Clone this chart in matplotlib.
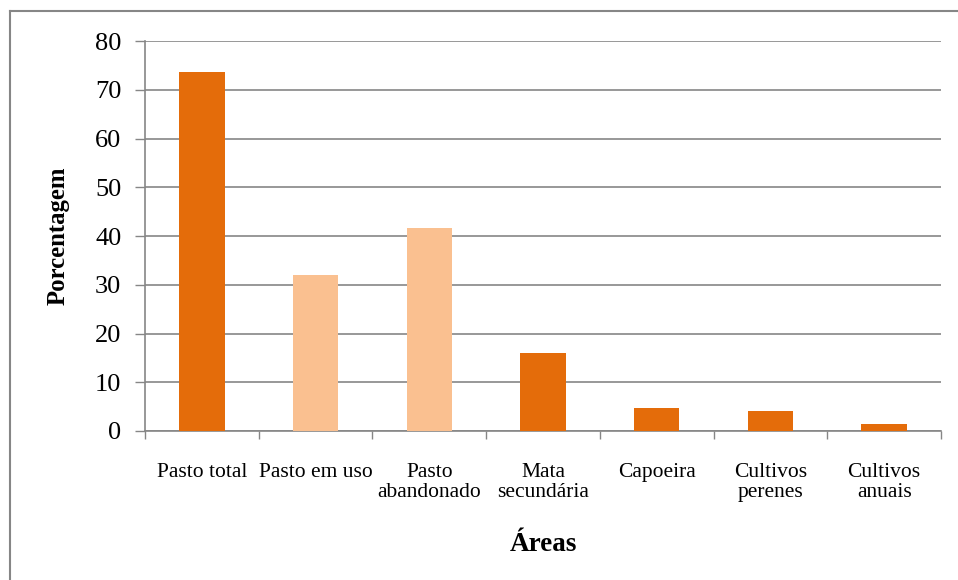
import matplotlib
matplotlib.use("Agg")
import matplotlib.pyplot as plt
from matplotlib.lines import Line2D

# Land-use shares
categorias = ["Pasto total", "Pasto em uso", "Pasto\nabandonado", "Mata\nsecundária",
              "Capoeira", "Cultivos\nperenes", "Cultivos\nanuais"]
valores = [73.7, 32.0, 41.6, 16.0, 4.7, 4.0, 1.5]
destaque = [True, False, False, True, True, True, True]

escuro = "#E46C0A"
claro = "#FAC090"
cinza = "#868686"

plt.rcParams["font.family"] = ["Liberation Serif", "DejaVu Serif"]

fig = plt.figure(figsize=(9.58, 5.8), dpi=100)
ax = fig.add_axes([0.1514, 0.2569, 0.8309, 0.6724])

x = list(range(len(categorias)))
cores = [escuro if d else claro for d in destaque]
ax.bar(x, valores, width=0.4, color=cores, edgecolor="none", zorder=3)

ax.set_xlim(-0.5, len(categorias) - 0.5)
ax.set_ylim(0, 80)
ax.set_yticks(range(0, 81, 10))
ax.tick_params(axis="y", labelsize=19, length=7, width=1, color=cinza, pad=10)

# category labels between boundary ticks
ax.set_xticks([i - 0.5 for i in range(len(categorias) + 1)])
ax.set_xticklabels([])
ax.set_xticks(x, minor=True)
ax.set_xticklabels(categorias, minor=True, fontsize=15.5, linespacing=1.1)
ax.tick_params(axis="x", which="major", length=6, width=1, color=cinza)
ax.tick_params(axis="x", which="minor", length=0, pad=23)

ax.yaxis.grid(True, color=cinza, linewidth=1.2, zorder=0)
for lado in ["top", "right"]:
    ax.spines[lado].set_visible(False)
for lado in ["left", "bottom"]:
    ax.spines[lado].set_color(cinza)
    ax.spines[lado].set_linewidth(1.2)

ax.set_ylabel("Porcentagem", fontsize=17.8, fontweight="bold", labelpad=18)
ax.set_xlabel("Áreas", fontsize=19.5, fontweight="bold", labelpad=21)

# chart frame (top and left edges)
fig.add_artist(Line2D([10 / 958, 10 / 958], [0, 1 - 11 / 580], color=cinza,
                      linewidth=1.5, transform=fig.transFigure))
fig.add_artist(Line2D([10 / 958, 1], [1 - 11 / 580, 1 - 11 / 580], color=cinza,
                      linewidth=1.5, transform=fig.transFigure))

fig.savefig("out.png", dpi=100, facecolor="white")
